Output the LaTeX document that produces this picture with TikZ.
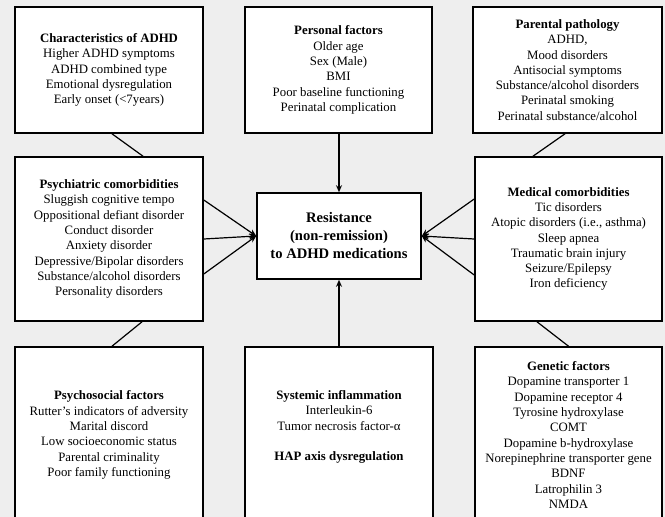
\documentclass[tikz,border=0pt]{standalone}
\usepackage{fontspec}
\setmainfont{Liberation Serif}
\usetikzlibrary{arrows.meta}
\definecolor{bggray}{HTML}{EEEEEE}
\begin{document}
\begin{tikzpicture}[x=1pt,y=-1pt,
  box/.style={draw=black, line width=1.6pt, fill=white, inner sep=0pt, align=center,
    font=\fontsize{12.8}{15.3}\selectfont},
  txt/.style={inner sep=0pt, align=center, font=\fontsize{12.8}{15.3}\selectfont},
  conn/.style={line width=1.2pt},
  arr/.style={line width=1.2pt, -{Stealth[length=7pt,width=6pt]}}]
\clip (0,0) rectangle (665,517);
\fill[bggray] (0,0) rectangle (665,517);
\node[box, minimum width=188pt, minimum height=126pt] (char) at (109,70)
  {\textbf{Characteristics of ADHD}\\Higher ADHD symptoms\\ADHD combined type\\Emotional dysregulation\\Early onset (<7years)};
\node[box, minimum width=187pt, minimum height=126pt] (pers) at (338.5,70)
  {\textbf{Personal factors}\\Older age\\Sex (Male)\\BMI\\Poor baseline functioning\\Perinatal complication};
\node[box, minimum width=189pt, minimum height=126pt] (par) at (567.5,70)
  {\textbf{Parental pathology}\\ADHD,\\Mood disorders\\Antisocial symptoms\\Substance/alcohol disorders\\Perinatal smoking\\Perinatal substance/alcohol};
\node[box, minimum width=188pt, minimum height=164pt] (psy) at (109,239)
  {\textbf{Psychiatric comorbidities}\\Sluggish cognitive tempo\\Oppositional defiant disorder\\Conduct disorder\\Anxiety disorder\\Depressive/Bipolar disorders\\Substance/alcohol disorders\\Personality disorders};
\node[box, minimum width=187pt, minimum height=164pt] (med) at (568.5,239)
  {\textbf{Medical comorbidities}\\Tic disorders\\Atopic disorders (i.e., asthma)\\Sleep apnea\\Traumatic brain injury\\Seizure/Epilepsy\\Iron deficiency};
\node[box, minimum width=164pt, minimum height=86pt, font=\fontsize{14.6}{18}\selectfont] (res) at (339,236)
  {\textbf{Resistance}\\\textbf{(non-remission)}\\\textbf{to ADHD medications}};
\node[box, minimum width=188pt, minimum height=176pt] (psoc) at (109,435)
  {\textbf{Psychosocial factors}\\Rutter’s indicators of adversity\\Marital discord\\Low socioeconomic status\\Parental criminality\\Poor family functioning};
\node[box, minimum width=188pt, minimum height=176pt] (sys) at (339,435) {};
\node[txt] (systxt) at (339,427)
  {\textbf{Systemic inflammation}\\Interleukin-6\\Tumor necrosis factor-α\\[15.3pt]\textbf{HAP axis dysregulation}};
\node[box, minimum width=187pt, minimum height=176pt] (gen) at (568.5,435)
  {\textbf{Genetic factors}\\Dopamine transporter 1\\Dopamine receptor 4\\Tyrosine hydroxylase\\COMT\\Dopamine b-hydroxylase\\Norepinephrine transporter gene\\BDNF\\Latrophilin 3\\NMDA};
% plain connectors
\draw[conn] ([xshift=3pt]char.south) -- ([xshift=34pt]psy.north);
\draw[conn] ([xshift=33pt]psy.south) -- ([xshift=3pt]psoc.north);
\draw[conn] ([xshift=-2.5pt]par.south) -- ([xshift=-35.5pt]med.north);
\draw[conn] ([xshift=-31.5pt]med.south) -- ([xshift=0pt]gen.north);
% arrows
\draw[arr] (pers.south -| res.north) -- (res.north);
\draw[arr] (sys.north) -- (res.south);
\draw[arr] ([yshift=39pt]psy.east) -- (res.west);
\draw[arr] (psy.east) -- (res.west);
\draw[arr] ([yshift=-35pt]psy.east) -- (res.west);
\draw[arr] ([yshift=40pt]med.west) -- (res.east);
\draw[arr] (med.west) -- (res.east);
\draw[arr] ([yshift=-36pt]med.west) -- (res.east);
\end{tikzpicture}
\end{document}
